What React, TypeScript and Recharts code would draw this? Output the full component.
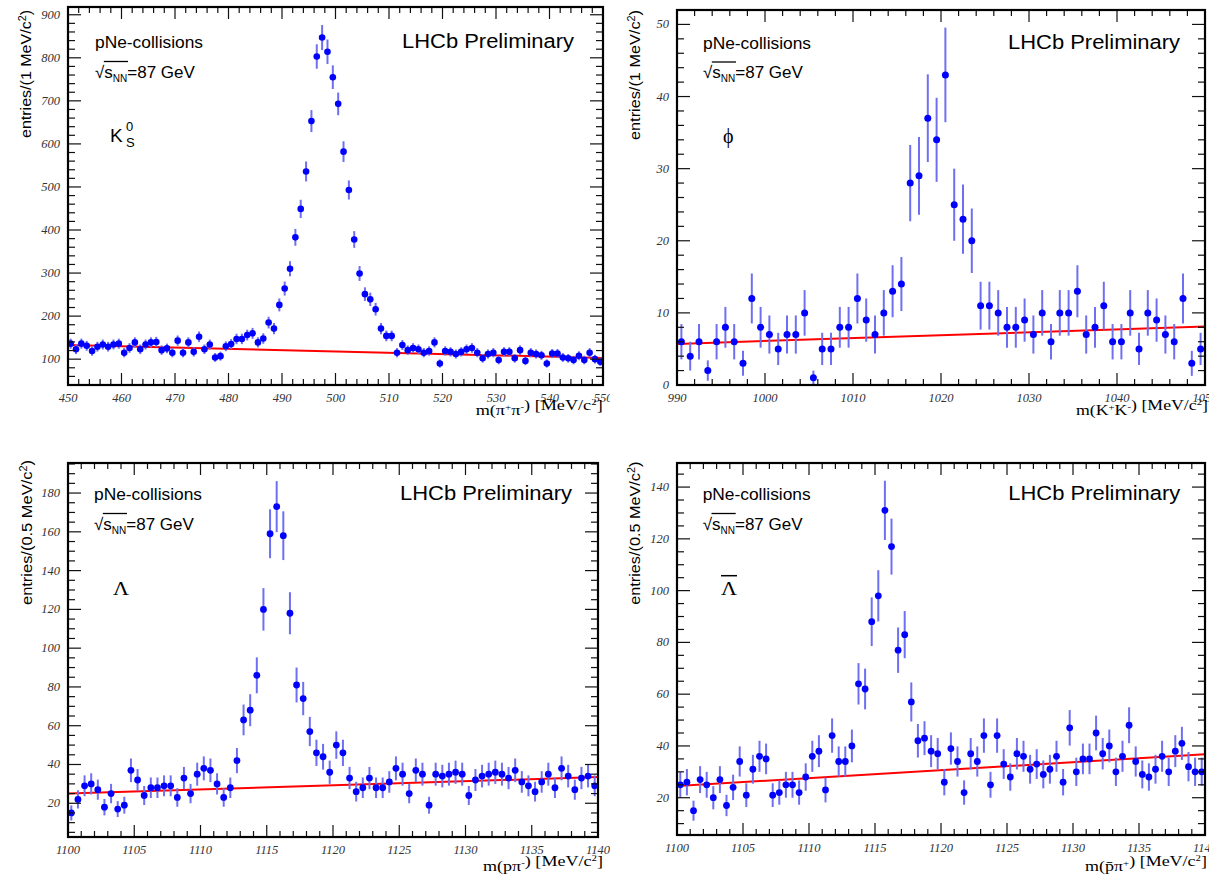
import React from 'react';
import { ComposedChart, Scatter, ErrorBar, XAxis, YAxis, ReferenceLine } from 'recharts';

// K0S -> pi+ pi-, 1 MeV bins starting at 450
const k0sStart = 450;
const k0sBin = 1;
const k0sCounts = [
  136, 123, 136, 131, 119, 129, 134, 129, 134, 136,
  115, 126, 139, 123, 134, 139, 140, 121, 125, 115,
  143, 115, 139, 117, 152, 123, 134, 104, 107, 130,
  135, 147, 147, 156, 160, 139, 148, 185, 171, 226,
  264, 310, 383, 449, 536, 653, 803, 847, 814, 755,
  693, 582, 493, 378, 299, 251, 239, 216, 171, 154,
  154, 115, 133, 121, 126, 123, 115, 119, 139, 90,
  119, 117, 112, 117, 123, 126, 115, 102, 112, 115,
  98, 117, 117, 102, 121, 96, 115, 112, 109, 90,
  113, 113, 104, 102, 98, 108, 98, 115, 100, 94,
];
const k0sFit = [133, 103];
const k0sXTicks = [450, 460, 470, 480, 490, 500, 510, 520, 530, 540, 550];
const k0sYTicks = [100, 200, 300, 400, 500, 600, 700, 800, 900];

// phi -> K+ K-, 1 MeV bins starting at 990
const phiStart = 990;
const phiBin = 1;
const phiCounts = [
  6, 4, 6, 2, 6, 8, 6, 3, 12, 8,
  7, 5, 7, 7, 10, 1, 5, 5, 8, 8,
  12, 9, 7, 10, 13, 14, 28, 29, 37, 34,
  43, 25, 23, 20, 11, 11, 10, 8, 8, 9,
  7, 10, 6, 10, 10, 13, 7, 8, 11, 6,
  6, 10, 5, 10, 9, 7, 6, 12, 3, 5,
];
const phiFit = [5.7, 8.1];
const phiXTicks = [990, 1000, 1010, 1020, 1030, 1040, 1050];
const phiYTicks = [0, 10, 20, 30, 40, 50];

// Lambda -> p pi-, 0.5 MeV bins starting at 1100
const lamStart = 1100;
const lamBin = 0.5;
const lamCounts = [
  15, 22, 29, 30, 27, 18, 25, 17, 19, 37,
  32, 24, 28, 28, 29, 29, 23, 33, 25, 35,
  38, 37, 30, 23, 28, 42, 63, 68, 86, 120,
  159, 173, 158, 118, 81, 74, 57, 46, 44, 36,
  50, 46, 33, 26, 28, 33, 28, 28, 31, 38,
  35, 25, 37, 35, 19, 35, 34, 35, 36, 35,
  24, 32, 34, 35, 36, 35, 33, 37, 31, 29,
  26, 31, 35, 28, 38, 34, 27, 33, 34, 29,
];
const lamFit = [25, 33.5];
const lamXTicks = [1100, 1105, 1110, 1115, 1120, 1125, 1130, 1135, 1140];
const lamYTicks = [20, 40, 60, 80, 100, 120, 140, 160, 180];

// anti-Lambda -> pbar pi+, 0.5 MeV bins starting at 1100
const alamStart = 1100;
const alamBin = 0.5;
const alamCounts = [
  25, 26, 15, 27, 25, 20, 27, 17, 24, 34,
  21, 31, 36, 35, 21, 22, 25, 25, 22, 28,
  36, 38, 23, 44, 34, 34, 40, 64, 62, 88,
  98, 131, 117, 77, 83, 57, 42, 43, 38, 37,
  26, 39, 34, 22, 37, 34, 44, 25, 44, 33,
  28, 37, 36, 31, 33, 29, 31, 36, 26, 47,
  30, 35, 35, 45, 37, 40, 30, 36, 48, 34,
  29, 28, 31, 36, 30, 38, 41, 32, 30, 30,
];
const alamFit = [24.5, 36.8];
const alamXTicks = [1100, 1105, 1110, 1115, 1120, 1125, 1130, 1135, 1140];
const alamYTicks = [20, 40, 60, 80, 100, 120, 140];

const SANS = '"Liberation Sans", Arial, Helvetica, sans-serif';
const SERIF = '"Liberation Serif", "Times New Roman", serif';

// bin centres with poisson errors
function toPoints(start: number, bin: number, counts: number[]) {
  return counts.map((n, i) => ({ m: start + (i + 0.5) * bin, n, e: Math.sqrt(n) }));
}

function tickRange(lo: number, hi: number, step: number) {
  const out: number[] = [];
  for (let v = Math.ceil(lo / step - 1e-9) * step; v <= hi + 1e-9; v += step) {
    out.push(Math.round(v * 1000) / 1000);
  }
  return out;
}

const isMajor = (majors: number[], v: number) => majors.some((m) => Math.abs(m - v) < 1e-6);

type Margin = { top: number; right: number; bottom: number; left: number };

type PanelProps = {
  left: number;
  top: number;
  width: number;
  height: number;
  frame: Margin; // where the plot frame sits inside the panel
  points: { m: number; n: number; e: number }[];
  xDomain: [number, number];
  yDomain: [number, number];
  xMajor: number[];
  xMinor: number;
  yMajor: number[];
  yMinor: number;
  fit: number[];
  dotR: number;
  children?: React.ReactNode;
};

function Panel(p: PanelProps) {
  const plotW = p.width - p.frame.left - p.frame.right;
  const plotH = p.height - p.frame.top - p.frame.bottom;
  // axes get 1px of room (recharts skips drawing a 0-size axis)
  const margin = { top: p.frame.top, right: p.frame.right, bottom: p.frame.bottom - 1, left: p.frame.left - 1 };

  const XTick = (t: any) => {
    const v = t.payload.value;
    const major = isMajor(p.xMajor, v);
    const len = major ? 12 : 6;
    return (
      <g>
        <line x1={t.x} y1={t.y} x2={t.x} y2={t.y - len} stroke="#111" strokeWidth={1.2} />
        <line x1={t.x} y1={t.y - plotH} x2={t.x} y2={t.y - plotH + len} stroke="#111" strokeWidth={1.2} />
        {major && (
          <text x={t.x} y={t.y + 13} textAnchor="middle" dominantBaseline="central"
            fontFamily={SERIF} fontStyle="italic" fontSize={12.5} fill="#333">
            {v}
          </text>
        )}
      </g>
    );
  };

  const YTick = (t: any) => {
    const v = t.payload.value;
    const major = isMajor(p.yMajor, v);
    const len = major ? 13 : 7;
    return (
      <g>
        <line x1={t.x} y1={t.y} x2={t.x + len} y2={t.y} stroke="#111" strokeWidth={1.2} />
        <line x1={t.x + plotW} y1={t.y} x2={t.x + plotW - len} y2={t.y} stroke="#111" strokeWidth={1.2} />
        {major && (
          <text x={t.x - 8} y={t.y} textAnchor="end" dominantBaseline="central"
            fontFamily={SERIF} fontStyle="italic" fontSize={12.5} fill="#333">
            {v}
          </text>
        )}
      </g>
    );
  };

  return (
    <div style={{ position: 'absolute', left: p.left, top: p.top, width: p.width, height: p.height }}>
      <ComposedChart width={p.width} height={p.height} margin={margin}>
        <XAxis
          xAxisId="x" dataKey="m" type="number" domain={p.xDomain} allowDataOverflow
          ticks={tickRange(p.xDomain[0], p.xDomain[1], p.xMinor)} interval={0}
          height={1} tickSize={0} tickMargin={0} axisLine={false} tickLine={false} tick={XTick}
        />
        <YAxis
          yAxisId="y" dataKey="n" type="number" domain={p.yDomain} allowDataOverflow
          ticks={tickRange(p.yDomain[0], p.yDomain[1], p.yMinor)} interval={0}
          width={1} tickSize={0} tickMargin={0} axisLine={false} tickLine={false} tick={YTick}
        />
        <ReferenceLine
          xAxisId="x" yAxisId="y"
          segment={[{ x: p.xDomain[0], y: p.fit[0] }, { x: p.xDomain[1], y: p.fit[1] }]}
          stroke="#ff0000" strokeWidth={2}
        />
        <Scatter
          xAxisId="x" yAxisId="y" data={p.points} isAnimationActive={false}
          shape={(s: any) => <circle cx={s.cx} cy={s.cy} r={p.dotR} fill="#0000ff" />}
        >
          <ErrorBar dataKey="e" direction="y" width={0} stroke="#6f6ff2" strokeWidth={2} />
        </Scatter>
      </ComposedChart>
      <svg width={p.width} height={p.height} style={{ position: 'absolute', left: 0, top: 0, pointerEvents: 'none' }}>
        <rect x={p.frame.left} y={p.frame.top} width={plotW} height={plotH} fill="none" stroke="#000" strokeWidth={2.2} />
        {p.children}
      </svg>
    </div>
  );
}

function Header({ x, y, lhcbX }: { x: number; y: number; lhcbX: number }) {
  return (
    <g fontFamily={SANS} fill="#000">
      <text x={x} y={y} fontSize={16} textLength={108} lengthAdjust="spacingAndGlyphs">pNe-collisions</text>
      <text x={x} y={y + 29.5} fontSize={17}>
        <tspan>√</tspan>
        <tspan>s</tspan>
        <tspan fontSize={10} dy={4}>NN</tspan>
        <tspan dy={-4}>=87 GeV</tspan>
      </text>
      <line x1={x + 8.8} x2={x + 33} y1={y + 13.5} y2={y + 13.5} stroke="#000" strokeWidth={1.3} />
      <text x={lhcbX} y={y} fontSize={20} textLength={172} lengthAdjust="spacingAndGlyphs">LHCb Preliminary</text>
    </g>
  );
}

function YTitle({ x, y, len, bin }: { x: number; y: number; len: number; bin: string }) {
  return (
    <text transform={`translate(${x},${y}) rotate(-90)`} textAnchor="end" fontFamily={SANS} fontSize={15}
      textLength={len} lengthAdjust="spacingAndGlyphs" fill="#000">
      {`entries/(${bin} MeV/c`}
      <tspan dy={-5} fontSize={10}>2</tspan>
      <tspan dy={5}>)</tspan>
    </text>
  );
}

function XTitle({ x, y, len, pair }: { x: number; y: number; len: number; pair: React.ReactNode }) {
  return (
    <text x={x} y={y} textAnchor="end" fontFamily={SERIF} fontSize={15} textLength={len}
      lengthAdjust="spacingAndGlyphs" fill="#000">
      {pair}
      <tspan>{') [MeV/c'}</tspan>
      <tspan dy={-5} fontSize={9}>2</tspan>
      <tspan dy={5}>]</tspan>
    </text>
  );
}

export default function App() {
  return (
    <div style={{ position: 'absolute', left: 0, top: 0, width: 1209, height: 880, background: '#fff', overflow: 'hidden' }}>
      <Panel
        left={0} top={0} width={610} height={440}
        frame={{ top: 7, right: 7, bottom: 55, left: 68 }}
        points={toPoints(k0sStart, k0sBin, k0sCounts)}
        xDomain={[450, 550]} yDomain={[40, 918]}
        xMajor={k0sXTicks} xMinor={2} yMajor={k0sYTicks} yMinor={20}
        fit={k0sFit} dotR={3.3}
      >
        <Header x={95} y={48} lhcbX={402} />
        <text x={110} y={141.7} fontFamily={SANS} fontSize={19}>K</text>
        <text x={126} y={130.7} fontFamily={SANS} fontSize={13}>0</text>
        <text x={126} y={146.5} fontFamily={SANS} fontSize={13}>S</text>
        <YTitle x={31} y={10} len={128} bin="1" />
        <XTitle x={602.7} y={415.3} len={127} pair={<>
          <tspan>m(π</tspan><tspan dy={-5} fontSize={9}>+</tspan><tspan dy={5}>π</tspan><tspan dy={-5} fontSize={9}>-</tspan><tspan dy={5}></tspan>
        </>} />
      </Panel>

      <Panel
        left={610} top={0} width={599} height={440}
        frame={{ top: 10, right: 4, bottom: 55, left: 67 }}
        points={toPoints(phiStart, phiBin, phiCounts)}
        xDomain={[990, 1050]} yDomain={[0, 52]}
        xMajor={phiXTicks} xMinor={2} yMajor={phiYTicks} yMinor={2}
        fit={phiFit} dotR={3.5}
      >
        <Header x={93} y={48.5} lhcbX={398} />
        <text x={113} y={143} fontFamily={SERIF} fontSize={20}>ϕ</text>
        <YTitle x={29.5} y={10} len={130} bin="1" />
        <XTitle x={598} y={415} len={132} pair={<>
          <tspan>m(K</tspan><tspan dy={-5} fontSize={9}>+</tspan><tspan dy={5}>K</tspan><tspan dy={-5} fontSize={9}>-</tspan><tspan dy={5}></tspan>
        </>} />
      </Panel>

      <Panel
        left={0} top={440} width={610} height={440}
        frame={{ top: 23, right: 12, bottom: 43, left: 68 }}
        points={toPoints(lamStart, lamBin, lamCounts)}
        xDomain={[1100, 1140]} yDomain={[2.6, 195.5]}
        xMajor={lamXTicks} xMinor={1} yMajor={lamYTicks} yMinor={5}
        fit={lamFit} dotR={3.4}
      >
        <Header x={94} y={60} lhcbX={400} />
        <text x={113} y={155} fontFamily={SERIF} fontSize={18} textLength={16} lengthAdjust="spacingAndGlyphs">Λ</text>
        <YTitle x={31.5} y={20} len={145} bin="0.5" />
        <XTitle x={603} y={431.3} len={120} pair={<>
          <tspan>m(pπ</tspan><tspan dy={-5} fontSize={9}>-</tspan><tspan dy={5}></tspan>
        </>} />
      </Panel>

      <Panel
        left={610} top={440} width={599} height={440}
        frame={{ top: 23, right: 4, bottom: 45, left: 67 }}
        points={toPoints(alamStart, alamBin, alamCounts)}
        xDomain={[1100, 1140]} yDomain={[5.6, 149.3]}
        xMajor={alamXTicks} xMinor={1} yMajor={alamYTicks} yMinor={5}
        fit={alamFit} dotR={3.4}
      >
        <Header x={92.7} y={60} lhcbX={398.3} />
        <text x={111} y={155} fontFamily={SERIF} fontSize={18} textLength={16} lengthAdjust="spacingAndGlyphs">Λ</text>
        <line x1={111} x2={127} y1={135.7} y2={135.7} stroke="#000" strokeWidth={1.5} />
        <YTitle x={29.5} y={21.7} len={143} bin="0.5" />
        <XTitle x={597} y={431} len={122} pair={<>
          <tspan>m(p̄π</tspan><tspan dy={-5} fontSize={9}>+</tspan><tspan dy={5}></tspan>
        </>} />
      </Panel>
    </div>
  );
}
